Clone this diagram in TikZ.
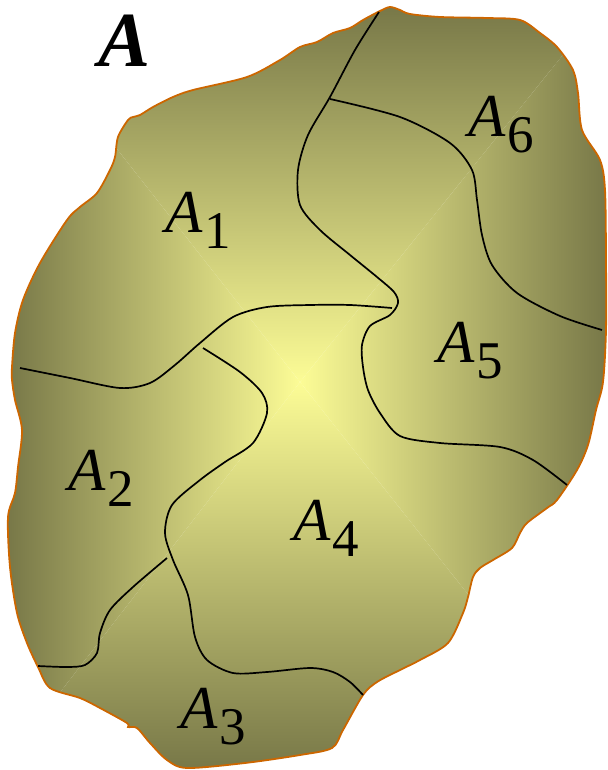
\documentclass[tikz,border=0pt]{standalone}
\usepackage{fontspec}
\setmainfont{Liberation Serif}
\definecolor{darkol}{RGB}{120,120,72}
\definecolor{lightyl}{RGB}{252,252,150}
\definecolor{rim}{RGB}{204,102,0}
\newcommand{\lab}[1]{{\fontsize{61}{61}\selectfont\itshape A}\kern2pt\raisebox{-16pt}{\fontsize{53}{53}\selectfont #1}}
\begin{document}
\begin{tikzpicture}[x=1pt,y=-1pt,
  rimline/.style={draw=rim,line width=1.8pt},
  border/.style={draw=black,line width=1.7pt},
  lbl/.style={anchor=base west,inner sep=0pt}]
\useasboundingbox (0,0) rectangle (607,770);
\def\outline{plot[smooth cycle,tension=0.5] coordinates {(300,47) (317,42) (333,33) (350,28) (363,20) (380,11) (390,7) (400,10) (410,14) (440,17) (487,18) (520,20) (540,33) (557,47) (573,70) (578,93) (582,130) (600,160) (605,190) (606,260) (606,330) (603,382) (596,410) (588,445) (577,470) (557,500) (547,508) (527,523) (520,533) (512,548) (493,560) (480,568) (473,577) (468,597) (463,613) (448,643) (420,660) (400,670) (377,682) (363,695) (343,730) (332,748) (300,755) (245,763) (187,768) (167,760) (150,743) (137,728) (128,727) (127,723) (100,708) (80,698) (50,688) (38,667) (27,643) (17,613) (10,567) (8,517) (15,493) (18,467) (22,430) (15,400) (12,380) (12,367) (15,333) (23,300) (40,263) (67,220) (80,207) (97,193) (110,170) (115,157) (118,137) (128,120) (133,117) (140,115) (153,107) (173,97) (193,90) (247,77) (280,60)}}
\coordinate (C) at (300,382);
\begin{scope}
  \clip \outline;
  \begin{scope}
    \clip (C) -- (0,0) -- (607,0) -- cycle;
    \shade[top color=darkol,bottom color=lightyl] (0,7) rectangle (607,382);
  \end{scope}
  \begin{scope}
    \clip (C) -- (607,0) -- (607,770) -- cycle;
    \shade[left color=lightyl,right color=darkol] (300,0) rectangle (606,770);
  \end{scope}
  \begin{scope}
    \clip (C) -- (607,770) -- (0,770) -- cycle;
    \shade[top color=lightyl,bottom color=darkol] (0,382) rectangle (607,768);
  \end{scope}
  \begin{scope}
    \clip (C) -- (0,770) -- (0,0) -- cycle;
    \shade[left color=darkol,right color=lightyl] (8,0) rectangle (300,770);
  \end{scope}
\end{scope}
\draw[rimline] \outline;
% internal boundaries
\draw[border] plot[smooth,tension=0.5] coordinates {(379,12) (355,50) (330,97) (308,135) (298,170) (300,205) (320,230) (350,255) (377,277) (394,292) (398,303) (390,315) (370,326) (362,345) (363,367) (368,390) (380,413) (400,436) (440,443) (500,447) (533,460) (567,485)};
\draw[border] plot[smooth,tension=0.5] coordinates {(330,99) (400,117) (450,143) (472,170) (477,200) (482,235) (492,265) (517,293) (560,316) (602,330)};
\draw[border] plot[smooth,tension=0.5] coordinates {(20,368) (70,378) (120,388) (150,383) (175,365) (200,343) (233,317) (267,307) (310,305) (350,305) (392,308)};
\draw[border] plot[smooth,tension=0.5] coordinates {(203,348) (240,372) (262,393) (267,413) (253,443) (225,462) (200,480) (172,505) (165,533) (173,560) (188,595) (195,637) (207,660) (233,673) (267,672) (310,668) (333,672) (350,682) (363,695)};
\draw[border] plot[smooth,tension=0.5] coordinates {(167,558) (133,587) (110,610) (100,633) (97,653) (85,665) (67,667) (38,666)};
% labels
\node[lbl] (big) at (98,67) {\fontsize{78}{78}\selectfont\bfseries\itshape A};
\node[lbl] (a1) at (165,232) {\lab{1}};
\node[lbl] (a6) at (468,137) {\lab{6}};
\node[lbl] (a5) at (437,362) {\lab{5}};
\node[lbl] (a2) at (68,490) {\lab{2}};
\node[lbl] (a3) at (180,728) {\lab{3}};
\node[lbl] (a4) at (293,540) {\lab{4}};
\end{tikzpicture}
\end{document}
